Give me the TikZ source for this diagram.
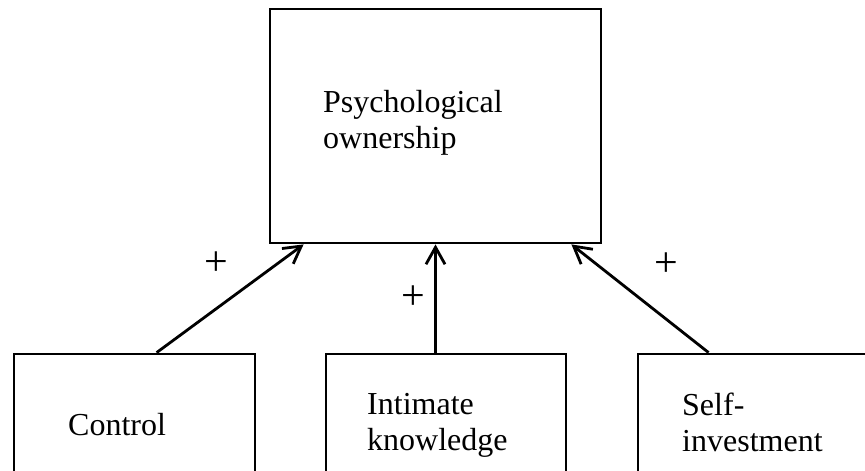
\documentclass[tikz,border=0pt]{standalone}
\usepackage{fontspec}
\setmainfont{Liberation Serif}
\usetikzlibrary{arrows.meta}
\begin{document}
\begin{tikzpicture}[x=1pt,y=-1pt,
  box/.style={draw,line width=2.8pt,rectangle,inner sep=0pt},
  label/.style={anchor=base west,align=left,inner sep=0pt,
    font=\fontsize{32}{35.5}\selectfont},
  sign/.style={inner sep=0pt,font=\fontsize{42}{42}\selectfont},
  link/.style={line width=2.8pt,-{Straight Barb[length=17pt,width=19pt,line width=2.8pt]}}]
\useasboundingbox (0,0) rectangle (865,471);
\clip (0,0) rectangle (865,471);
% outcome box
\node[box,minimum width=331pt,minimum height=234pt] (po) at (435.5,126) {};
% antecedent boxes (their lower parts run past the page edge)
\node[box,minimum width=241pt,minimum height=166pt] (ctrl) at (134.5,437) {};
\node[box,minimum width=240pt,minimum height=166pt] (know) at (446,437) {};
\node[box,minimum width=272pt,minimum height=166pt] (self) at (774,437) {};
% box texts (anchored on the baseline of the last line)
\node[label] (potext) at (323,148) {Psychological\\ownership};
\node[label] (ctrltext) at (68,435) {Control};
\node[label] (knowtext) at (367,450) {Intimate\\knowledge};
\node[label] (selftext) at (682,451) {Self-\\investment};
% connectors
\coordinate (ctrlout) at ([xshift=144pt]ctrl.north west);
\coordinate (knowout) at (po.south |- know.north);
\coordinate (selfout) at ([xshift=72pt]self.north west);
\coordinate (poinA) at ([xshift=35pt]po.south west);
\coordinate (poinB) at (po.south);
\coordinate (poinC) at ([xshift=-31pt]po.south east);
\draw[link] (ctrlout) -- (poinA);
\draw[link] (knowout) -- (poinB);
\draw[link] (selfout) -- (poinC);
% signs
\node[sign] (s1) at (216,264) {+};
\node[sign] (s2) at (413,298) {+};
\node[sign] (s3) at (666,265) {+};
\end{tikzpicture}
\end{document}
